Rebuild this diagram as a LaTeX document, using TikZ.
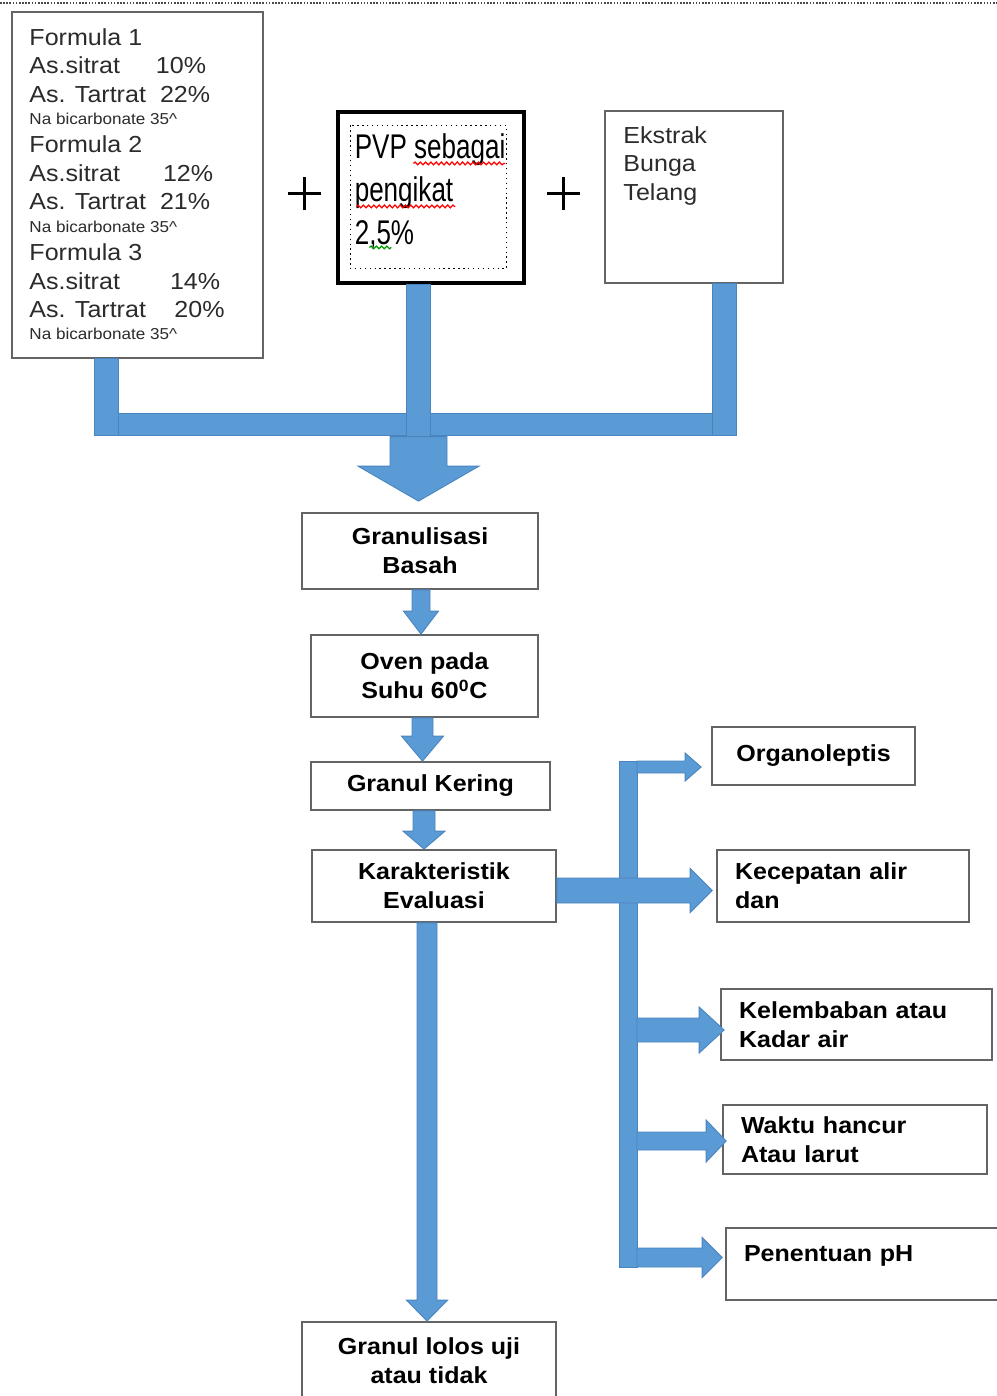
\documentclass[tikz,border=0pt]{standalone}
\usepackage{fontspec}
\setmainfont[FakeStretch=1.08]{Liberation Sans}
\newfontfamily\narrowfont[FakeStretch=0.76]{Liberation Sans}
\usetikzlibrary{calc}
\usetikzlibrary{decorations.pathmorphing}
\definecolor{flowblue}{HTML}{5B9BD5}
\definecolor{flowedge}{HTML}{4A84BF}
\definecolor{boxgray}{HTML}{646464}
\definecolor{inkgray}{HTML}{2B2B2B}
\tikzset{
  box/.style={draw=boxgray, line width=1pt, fill=white, inner sep=0pt, text=black,
    font=\bfseries\fontsize{13.2}{16.4}\selectfont, align=center},
  leftbox/.style={box, align=left, inner xsep=0.36cm, text width=#1},
  plainbox/.style={draw=boxgray, line width=1pt, fill=white, inner sep=0pt},
  bluebar/.style={fill=flowblue, draw=flowedge, line width=0.5pt},
  plus/.style={line width=1.6pt, black},
  squiggle/.style={decorate, decoration={snake, amplitude=0.8pt, segment length=3pt}, line width=0.7pt}
}
% block arrow going down: start, target (y only), shaft half, head half, head length
\newcommand{\downblock}[5]{%
  \filldraw[bluebar] ($(#1)+(-#3,0)$) -- ($(#1 |- #2)+(-#3,-#5)$) -- ($(#1 |- #2)+(-#4,-#5)$)
    -- (#1 |- #2) -- ($(#1 |- #2)+(#4,-#5)$) -- ($(#1 |- #2)+(#3,-#5)$) -- ($(#1)+(#3,0)$) -- cycle;}
% block arrow going right: start (x only), tip, shaft half, head half, head length
\newcommand{\rightblock}[5]{%
  \filldraw[bluebar] ($(#1 |- #2)+(0,-#3)$) -- ($(#2)+(-#5,-#3)$) -- ($(#2)+(-#5,-#4)$)
    -- (#2) -- ($(#2)+(-#5,#4)$) -- ($(#2)+(-#5,#3)$) -- ($(#1 |- #2)+(0,#3)$) -- cycle;}
\begin{document}
\begin{tikzpicture}[x=0.02cm, y=-0.02cm]
  \useasboundingbox (0,0) rectangle (997,1396);
  \clip (0,0) rectangle (997,1396);
  \draw[line width=1.2pt, dash pattern=on 0.9pt off 0.9pt, black!70] (0,3) -- (997,3);

  % ingredients
  \node[plainbox, minimum width=5.02cm, minimum height=6.92cm] (formula) at (137.5,185) {};
  \node[anchor=base west, inner sep=0pt, text=inkgray, font=\fontsize{13.2}{16.2}\selectfont]
    (formulatext) at ($(formula.north west)+(18,34)$) {\begin{tabular}[t]{@{}l@{}}
    Formula 1\\
    \makebox[72pt][l]{As.sitrat}10\%\\
    \makebox[74.3pt][l]{As. Tartrat}22\%\\\noalign{\vskip-3.5pt}
    {\fontsize{9}{10}\selectfont Na bicarbonate 35\textasciicircum}\\
    Formula 2\\
    \makebox[76pt][l]{As.sitrat}12\%\\
    \makebox[74.3pt][l]{As. Tartrat}21\%\\\noalign{\vskip-3.5pt}
    {\fontsize{9}{10}\selectfont Na bicarbonate 35\textasciicircum}\\
    Formula 3\\
    \makebox[80pt][l]{As.sitrat}14\%\\
    \makebox[82.5pt][l]{As. Tartrat}20\%\\\noalign{\vskip-3.5pt}
    {\fontsize{9}{10}\selectfont Na bicarbonate 35\textasciicircum}
  \end{tabular}};

  \node[draw=black, line width=1.8pt, fill=white, inner sep=0pt, minimum width=3.72cm,
    minimum height=3.42cm] (pvp) at (431,197.5) {};
  \draw[dotted, line width=0.8pt] ($(pvp.north west)+(14,15)$) rectangle ($(pvp.south east)+(-19,-16)$);
  \node[anchor=base west, inner sep=0pt, font=\narrowfont\fontsize{19.5}{24.4}\selectfont]
    (pvptext) at ($(pvp.north west)+(18,48)$) {\begin{tabular}[t]{@{}l@{}}
    PVP sebagai\\ pengikat\\ 2,5\%
  \end{tabular}};
  \draw[squiggle, red] ($(pvp.north west)+(77,53)$) -- ($(pvp.north west)+(169,53)$);
  \draw[squiggle, red] ($(pvp.north west)+(20,96)$) -- ($(pvp.north west)+(119,96)$);
  \draw[squiggle, green!60!black] ($(pvp.north west)+(33,137)$) -- ($(pvp.north west)+(55,137)$);

  \node[plainbox, minimum width=3.56cm, minimum height=3.44cm] (ekstrak) at (694,197) {};
  \node[anchor=base west, inner sep=0pt, text=inkgray, font=\fontsize{13.2}{16.4}\selectfont]
    (ekstraktext) at ($(ekstrak.north west)+(19,33)$) {\begin{tabular}[t]{@{}l@{}}
    Ekstrak\\ Bunga\\ Telang
  \end{tabular}};

  \coordinate (plusA) at (304.5,193.5);
  \coordinate (plusB) at (563.5,193.5);
  \draw[plus] ($(plusA)+(-16.5,0)$) -- ($(plusA)+(16.5,0)$) ($(plusA)+(0,-16.5)$) -- ($(plusA)+(0,16.5)$);
  \draw[plus] ($(plusB)+(-16.5,0)$) -- ($(plusB)+(16.5,0)$) ($(plusB)+(0,-16.5)$) -- ($(plusB)+(0,16.5)$);

  % process column
  \node[box, minimum width=4.72cm, minimum height=1.52cm] (granul) at (420,551) {Granulisasi\\Basah};
  \node[box, minimum width=4.54cm, minimum height=1.64cm] (oven) at (424.5,676) {Oven pada\\Suhu 60\textsuperscript{0}C};
  \node[box, minimum width=4.78cm, minimum height=0.96cm] (kering) at (430.5,786) {Granul Kering};
  \node[box, minimum width=4.88cm, minimum height=1.44cm] (karak) at (434,886) {Karakteristik\\Evaluasi};
  \node[box, minimum width=5.08cm, minimum height=1.56cm] (lolos) at (429,1361) {Granul lolos uji\\atau tidak};

  % evaluation boxes
  \node[box, minimum width=4.06cm, minimum height=1.16cm] (organo) at (813.5,756) {Organoleptis};
  \node[leftbox=4.32cm, minimum height=1.44cm] (kecep) at (843,886) {Kecepatan alir\\dan};
  \node[leftbox=4.70cm, minimum height=1.42cm] (lembab) at (856.5,1024.5) {Kelembaban atau\\Kadar air};
  \node[leftbox=4.56cm, minimum height=1.38cm] (waktu) at (855,1139.5) {Waktu hancur\\Atau larut};
  \node[leftbox=4.76cm, minimum height=1.44cm] (ph) at (863,1264) {Penentuan pH\\[-4.5pt]\mbox{}};

  % merging bars
  \filldraw[bluebar] ($(formula.south west)+(83,55)$) rectangle ($(ekstrak.south)+(42,152)$);
  \filldraw[bluebar] ($(formula.south west)+(83,0)$) rectangle ($(formula.south west)+(107,77)$);
  \filldraw[bluebar] ($(pvp.south)+(-25,0)$) rectangle ($(pvp.south)+(-1,152)$);
  \filldraw[bluebar] ($(ekstrak.south)+(18,0)$) rectangle ($(ekstrak.south)+(42,152)$);
  \coordinate (merge) at ($(pvp.south)+(-12.5,152)$);
  \coordinate (mergetip) at ($(granul.north)+(-1.5,-11)$);
  \downblock{merge}{mergetip}{28.5}{60.5}{35}

  % down arrows
  \coordinate (a1) at ($(granul.south)+(1,0)$);
  \coordinate (a2) at ($(oven.south)+(-2,0)$);
  \coordinate (a3) at ($(kering.south)+(-6.5,0)$);
  \coordinate (a4) at ($(karak.south)+(-7,0)$);
  \downblock{a1}{oven.north}{9}{17.5}{23}
  \downblock{a2}{kering.north}{10.5}{21}{25}
  \downblock{a3}{karak.north}{11}{21}{18}
  \downblock{a4}{lolos.north}{10}{20.5}{21}

  % branch to the evaluations
  \coordinate (bustop) at (628,761);
  \coordinate (busbot) at (628,1267);
  \coordinate (busedge) at ($(bustop)+(9,0)$);
  \filldraw[bluebar] ($(bustop)+(-9,0)$) rectangle ($(busbot)+(9,0)$);
  \coordinate (kright) at ($(karak.east)+(0,4.5)$);
  \coordinate (kepctip) at ($(kecep.west)+(-4,4.5)$);
  \coordinate (organotip) at ($(organo.west)+(-10,11)$);
  \coordinate (lembabtip) at ($(lembab.west)+(4,5.5)$);
  \coordinate (waktutip) at ($(waktu.west)+(4,1.5)$);
  \coordinate (phtip) at ($(ph.west)+(-3,-6.5)$);
  \rightblock{kright}{kepctip}{12.5}{22}{22}
  \rightblock{busedge}{organotip}{6}{14}{16}
  \rightblock{busedge}{lembabtip}{12}{23}{25}
  \rightblock{busedge}{waktutip}{9}{21}{20}
  \rightblock{busedge}{phtip}{9.5}{20}{20}
\end{tikzpicture}
\end{document}
